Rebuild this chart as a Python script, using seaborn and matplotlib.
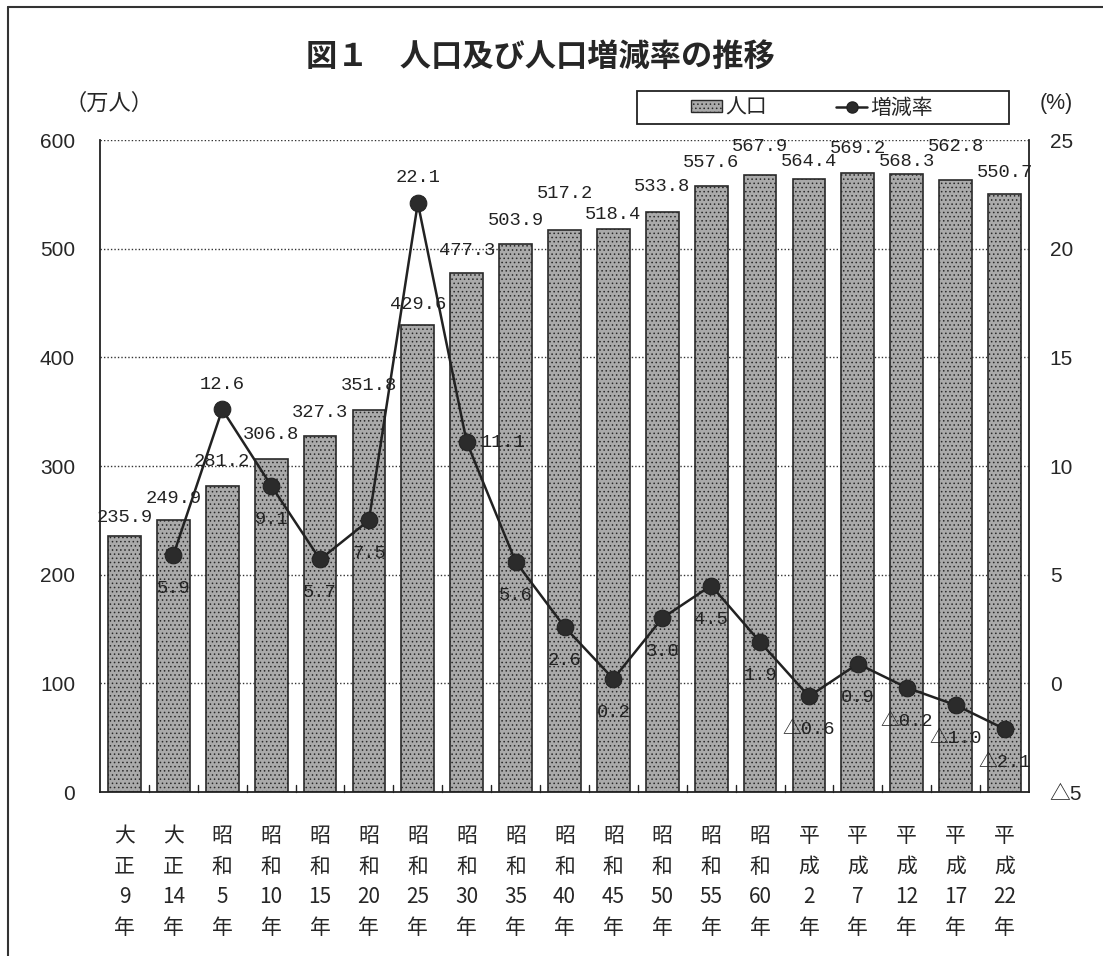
import numpy as np
import pandas as pd
import matplotlib
matplotlib.use("Agg")
import matplotlib.pyplot as plt
import seaborn as sns
from matplotlib.lines import Line2D
from matplotlib.patches import Patch, Rectangle

# ---- data ----
eras = ["大正", "大正", "昭和", "昭和", "昭和", "昭和", "昭和", "昭和", "昭和",
        "昭和", "昭和", "昭和", "昭和", "昭和", "平成", "平成", "平成", "平成", "平成"]
years = ["9", "14", "5", "10", "15", "20", "25", "30", "35",
         "40", "45", "50", "55", "60", "2", "7", "12", "17", "22"]
population = [235.9, 249.9, 281.2, 306.8, 327.3, 351.8, 429.6, 477.3, 503.9,
              517.2, 518.4, 533.8, 557.6, 567.9, 564.4, 569.2, 568.3, 562.8, 550.7]
# growth rate (%) vs previous census; none for the first period
growth = [None, 5.9, 12.6, 9.1, 5.7, 7.5, 22.1, 11.1, 5.6,
          2.6, 0.2, 3.0, 4.5, 1.9, -0.6, 0.9, -0.2, -1.0, -2.1]
left_ticks = [0, 100, 200, 300, 400, 500, 600]
right_ticks = [-5, 0, 5, 10, 15, 20, 25]

# gap (points) between each bar top and its value label, staggered where labels crowd
bar_label_gap = [7, 10, 12, 11, 11, 11, 9, 10, 11, 20, 4, 12, 11, 14, 6, 12, 3, 18, 9]
# where each growth label sits relative to its marker
growth_label_side = ["", "below", "above", "below", "below", "below", "above", "right", "below",
                     "below", "below", "below", "below", "below", "below", "below", "below", "below", "below"]

def fmt(v):
    return ("△" if v < 0 else "") + f"{abs(v):.1f}"

cat_labels = ["\n".join([e[0], e[1], y, "年"]) for e, y in zip(eras, years)]
df = pd.DataFrame({"period": cat_labels, "population": population})

sns.set_theme(style="white")
plt.rcParams["font.family"] = ["Noto Sans CJK JP", "DejaVu Sans"]
plt.rcParams["hatch.linewidth"] = 0.6

BAR = "#aaaaaa"
INK = "#222222"

fig = plt.figure(figsize=(11.03, 9.56), dpi=100)
ax = fig.add_axes([100 / 1103, 1 - 792 / 956, 929 / 1103, 652 / 956])

sns.barplot(data=df, x="period", y="population", ax=ax, color=BAR,
            width=0.67, edgecolor="#2a2a2a", linewidth=1.2, hatch="....",
            saturation=1)

ax.set_xlim(-0.5, 18.5)
ax.set_ylim(0, 600)
ax.set_yticks(left_ticks)
ax.set_yticklabels([str(t) for t in left_ticks], fontsize=15, family="Liberation Sans")
ax.tick_params(axis="y", length=0, pad=18)
ax.set_xlabel("")
ax.set_ylabel("")
ax.set_xticks(np.arange(len(cat_labels)))
ax.set_xticklabels(cat_labels, fontsize=15, linespacing=1.5)
ax.tick_params(axis="x", length=0, pad=24)
# small separators between categories
for xb in np.arange(0.5, 18.5, 1.0):
    ax.plot([xb, xb], [0, 6], color=INK, lw=1.0, clip_on=False, zorder=5)

for v in left_ticks[1:]:
    ax.axhline(v, color="#333", lw=1.0, ls=(0, (1, 1.5)), zorder=0)
for side in ["left", "right", "bottom"]:
    ax.spines[side].set_color(INK)
    ax.spines[side].set_linewidth(1.3)
ax.spines["top"].set_visible(False)

# population labels
for i, v in enumerate(population):
    ax.annotate(f"{v:.1f}", (i, v), xytext=(0, bar_label_gap[i]), textcoords="offset points",
                ha="center", va="bottom", fontsize=13.5,
                family="Liberation Mono", color=INK, zorder=6)

# growth line on the secondary axis
ax2 = ax.twinx()
gx = [i for i, g in enumerate(growth) if g is not None]
gy = [g for g in growth if g is not None]
sns.lineplot(x=gx, y=gy, ax=ax2, color=INK, lw=1.8, marker="o",
             markersize=12, markeredgecolor=INK, markerfacecolor="#2b2b2b", zorder=4)
ax2.set_ylim(-5, 25)
ax2.set_yticks(right_ticks)
ax2.set_yticklabels([fmt(t).replace(".0", "") for t in right_ticks], fontsize=15,
                    family=["Liberation Sans", "Noto Sans CJK JP"])
ax2.tick_params(axis="y", length=0, pad=15)
ax2.set_ylabel("")
ax2.grid(False)
for s in ax2.spines.values():
    s.set_visible(False)

for i, g in zip(gx, gy):
    side = growth_label_side[i]
    if side == "above":
        xy, ha, va = (0, 12), "center", "bottom"
    elif side == "right":
        xy, ha, va = (10, 0), "left", "center"
    else:
        xy, ha, va = (0, -18), "center", "top"
    ax2.annotate(fmt(g), (i, g), xytext=xy, textcoords="offset points",
                 ha=ha, va=va, fontsize=13.5, color=INK,
                 family=["Liberation Mono", "Noto Sans CJK JP"], zorder=6)

# titles and unit captions
fig.text(540 / 1103, 1 - 57 / 956, "図１　人口及び人口増減率の推移", ha="center", va="center",
         fontsize=22.5, fontweight="bold")
fig.text(64 / 1103, 1 - 103 / 956, "（万人）", ha="left", va="center", fontsize=16)
fig.text(1040 / 1103, 1 - 103 / 956, "(%)", ha="left", va="center", fontsize=15.5,
         family="Liberation Sans")

# legend: frameless entries inside a drawn box
fig.add_artist(Rectangle((637 / 1103, 1 - 124 / 956), 372 / 1103, 33 / 956,
                         transform=fig.transFigure, fill=False, edgecolor=INK, lw=1.3))
handles = [Patch(facecolor=BAR, edgecolor="#2a2a2a", hatch="....", label="人口"),
           Line2D([0], [0], color=INK, lw=1.8, marker="o", markersize=8,
                  markerfacecolor="#2b2b2b", label="増減率")]
leg = fig.legend(handles=handles, loc="center", bbox_to_anchor=(812 / 1103, 1 - 107.5 / 956),
                 ncol=2, frameon=False, fontsize=15, handlelength=1.5, handleheight=0.5,
                 handletextpad=0.15, columnspacing=3.3, borderpad=0, borderaxespad=0)

# outer border of the sheet
fig.add_artist(Line2D([8 / 1103, 8 / 1103], [0, 1 - 7 / 956], color="#333", lw=1.5))
fig.add_artist(Line2D([8 / 1103, 1], [1 - 7 / 956, 1 - 7 / 956], color="#333", lw=1.5))

fig.savefig("out.png", dpi=100)
